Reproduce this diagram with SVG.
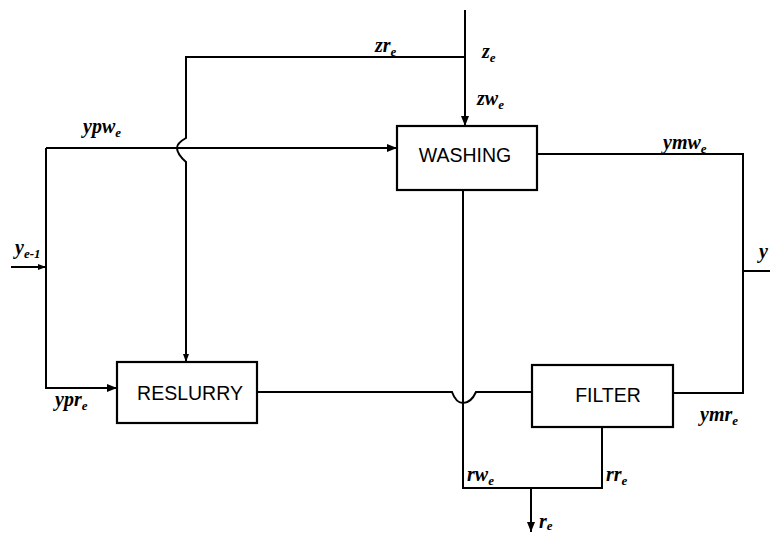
<svg xmlns="http://www.w3.org/2000/svg" width="770" height="533" viewBox="0 0 770 533">
<style>
.ln{fill:none;stroke:#000;stroke-width:2}
.box{fill:#fff;stroke:#000;stroke-width:2.2}
.bt{font-family:"Liberation Sans",Arial,sans-serif;font-size:19.5px;fill:#000;text-anchor:middle}
.lb{font-family:"Liberation Serif","Times New Roman",serif;font-size:20px;font-weight:bold;font-style:italic;fill:#000}
.sb{font-size:13px}
</style>
<defs>
<marker id="ah" markerWidth="10" markerHeight="8" refX="10" refY="4" orient="auto" markerUnits="userSpaceOnUse">
<path d="M0,0 L10,4 L0,8 Z" fill="#000"/>
</marker>
<marker id="ahs" markerWidth="8" markerHeight="6" refX="8" refY="3" orient="auto" markerUnits="userSpaceOnUse">
<path d="M0,0 L8,3 L0,6 Z" fill="#000"/>
</marker>
</defs>
<g id="connectors">
<path class="ln" d="M465,10 L465,126" marker-end="url(#ah)"/>
<path class="ln" d="M465,57 L186,57 L186,138 Q177,143 177,148 Q177,154 186,162 L186,362" marker-end="url(#ahs)"/>
<path class="ln" d="M11,267 L46,267" marker-end="url(#ahs)"/>
<path class="ln" d="M46,148 L397,148" marker-end="url(#ah)"/>
<path class="ln" d="M46,148 L46,388 L117,388" marker-end="url(#ah)"/>
<path class="ln" d="M537,154 L743,154 L743,393 L673,393"/>
<path class="ln" d="M743,271 L770,271"/>
<path class="ln" d="M257,392 L452,392 Q456,403 463,403 Q471,403 476,392 L532,392"/>
<path class="ln" d="M463,190 L463,488 L602,488 L602,427"/>
<path class="ln" d="M531,488 L531,532" marker-end="url(#ah)"/>
</g>
<g id="washing">
<rect class="box" x="397" y="126" width="140" height="64"/>
<text class="bt" x="465" y="162">WASHING</text>
</g>
<g id="reslurry">
<rect class="box" x="117" y="362" width="140" height="61"/>
<text class="bt" x="190" y="400">RESLURRY</text>
</g>
<g id="filter">
<rect class="box" x="532" y="365" width="141" height="62"/>
<text class="bt" x="608" y="402">FILTER</text>
</g>
<g id="labels">
<text class="lb" x="375" y="52">zr<tspan class="sb" dy="4">e</tspan></text>
<text class="lb" x="482" y="58">z<tspan class="sb" dy="4">e</tspan></text>
<text class="lb" x="477" y="105">zw<tspan class="sb" dy="4">e</tspan></text>
<text class="lb" x="83" y="133">ypw<tspan class="sb" dy="4">e</tspan></text>
<text class="lb" x="663" y="149">ymw<tspan class="sb" dy="4">e</tspan></text>
<text class="lb" x="15" y="254">y<tspan class="sb" dy="4">e-1</tspan></text>
<text class="lb" x="759" y="258">y</text>
<text class="lb" x="55" y="406">ypr<tspan class="sb" dy="4">e</tspan></text>
<text class="lb" x="700" y="421">ymr<tspan class="sb" dy="4">e</tspan></text>
<text class="lb" x="467" y="481">rw<tspan class="sb" dy="4">e</tspan></text>
<text class="lb" x="606" y="481">rr<tspan class="sb" dy="4">e</tspan></text>
<text class="lb" x="539" y="528">r<tspan class="sb" dy="2">e</tspan></text>
</g>
</svg>
